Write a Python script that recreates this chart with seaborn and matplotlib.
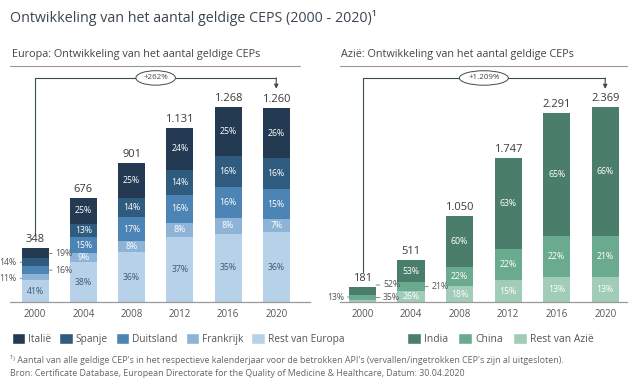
import seaborn as sns
import matplotlib.pyplot as plt
from matplotlib.patches import Patch
import pandas as pd

sns.set_style('white')
plt.rcParams['font.family'] = ['Open Sans', 'DejaVu Sans']

years = ['2000', '2004', '2008', '2012', '2016', '2020']

# Europe: totals and shares (%) per country, bottom -> top
eu_total = [348, 676, 901, 1131, 1268, 1260]
eu_regions = ['Rest van Europa', 'Frankrijk', 'Duitsland', 'Spanje', 'Italië']
eu_rest = [41, 38, 36, 37, 35, 36]
eu_fr = [11, 9, 8, 8, 8, 7]
eu_de = [16, 15, 17, 16, 16, 15]
eu_es = [14, 13, 14, 14, 16, 16]
eu_it = [19, 25, 25, 24, 25, 26]
eu_colors = ['#b7d1e8', '#8db4d6', '#4c84b5', '#2f5b7e', '#243a52']

# Asia
as_total = [181, 511, 1050, 1747, 2291, 2369]
as_regions = ['Rest van Azië', 'China', 'India']
as_rest = [13, 26, 18, 15, 13, 13]
as_cn = [35, 21, 22, 22, 22, 21]
as_in = [52, 53, 60, 63, 65, 66]
as_colors = ['#a1ccb8', '#6aab8f', '#4b7e6a']

W, H = 628, 390
fig = plt.figure(figsize=(W / 100, H / 100), dpi=100)


def stacked(ax, totals, regions, shares, colors, inner_dark, outside, pxu):
    df = pd.DataFrame({'year': years, 'total': totals})
    shares = [list(s) for s in shares]
    sums = [sum(s[i] for s in shares) for i in range(len(years))]
    cums = []
    run = [0] * len(years)
    for s in shares:
        run = [run[i] + s[i] for i in range(len(years))]
        cums.append(list(run))
    # draw from top layer down so lower layers overlap
    for k in range(len(regions) - 1, -1, -1):
        df['cum'] = [totals[i] * cums[k][i] / sums[i] for i in range(len(years))]
        sns.barplot(data=df, x='year', y='cum', color=colors[k], saturation=1,
                    width=0.56, errorbar=None, ax=ax, edgecolor='none')
    for i in range(len(years)):
        lo = 0
        for k, reg in enumerate(regions):
            seg = totals[i] * shares[k][i] / sums[i]
            mid = lo + seg / 2
            lab = f'{shares[k][i]}%'
            if (i, reg) in outside:
                side, dy = outside[(i, reg)]
                sgn = 1 if side == 'r' else -1
                ax.annotate(lab, xy=(i + sgn * 0.28, mid - dy / pxu),
                            xytext=(sgn * (5 if side == 'r' else 3.5), 0),
                            textcoords='offset points',
                            ha='left' if side == 'r' else 'right', va='center',
                            fontsize=6.3, color='#555555',
                            arrowprops=dict(arrowstyle='-', color='#777777', lw=0.6,
                                            shrinkA=0, shrinkB=0))
            else:
                ax.text(i, mid, lab, ha='center', va='center', fontsize=6.3,
                        color='#3d5a75' if (inner_dark and k == 0) else 'white')
            lo += seg
        ax.text(i, totals[i] + 3 / pxu, f'{totals[i]:,}'.replace(',', '.'),
                ha='center', va='bottom', fontsize=8, color='#3a3a3a')
    ax.set_xlabel('')
    ax.set_ylabel('')
    ax.set_yticks([])
    for s in ['top', 'left', 'right']:
        ax.spines[s].set_visible(False)
    ax.spines['bottom'].set_color('#999999')
    ax.spines['bottom'].set_linewidth(0.9)
    ax.tick_params(axis='x', length=0, labelsize=7, labelcolor='#555555', pad=5)


def bracket(ax, y0, ytop, ytip, label):
    ax.plot([0, 0, 5], [y0, ytop, ytop], color='#3a4a55', lw=0.8, clip_on=False)
    ax.annotate('', xy=(5, ytip), xytext=(5, ytop),
                arrowprops=dict(arrowstyle='-|>', color='#3a4a55', lw=0.8,
                                mutation_scale=6, shrinkA=0, shrinkB=0))
    ax.text(2.5, ytop, label, ha='center', va='center', fontsize=5.8, color='#444444',
            bbox=dict(boxstyle='ellipse,pad=0.2', fc='white', ec='#3a4a55', lw=0.7))


# left panel
ax1 = fig.add_axes([10 / W, 88 / H, 300 / W, 232 / H])
pxu1 = 0.154
stacked(ax1, eu_total, eu_regions, [eu_rest, eu_fr, eu_de, eu_es, eu_it], eu_colors, True,
        {(0, 'Italië'): ('r', 0), (0, 'Spanje'): ('l', 0),
         (0, 'Duitsland'): ('r', 0), (0, 'Frankrijk'): ('l', 1)}, pxu1)
ax1.set_xlim(-0.52, 5.7)
ax1.set_ylim(0, 232 / pxu1)
bracket(ax1, 435, 1455, 1385, '+262%')

# right panel
ax2 = fig.add_axes([340 / W, 88 / H, 288 / W, 232 / H])
pxu2 = 0.0823
stacked(ax2, as_total, as_regions, [as_rest, as_cn, as_in], as_colors, False,
        {(0, 'India'): ('r', -6), (0, 'China'): ('r', 0),
         (0, 'Rest van Azië'): ('l', -4), (1, 'China'): ('r', 0)}, pxu2)
ax2.set_xlim(-0.464, 5.47)
ax2.set_ylim(0, 232 / pxu2)
bracket(ax2, 365, 2722, 2590, '+1.209%')

# titles
fig.text(10 / W, 1 - 18 / H, 'Ontwikkeling van het aantal geldige CEPS (2000 - 2020)¹',
         fontsize=10.3, color='#3b4652', va='center')
fig.text(12 / W, 1 - 55 / H, 'Europa: Ontwikkeling van het aantal geldige CEPs',
         fontsize=7.8, color='#444444', va='center')
fig.text(341 / W, 1 - 55 / H, 'Azië: Ontwikkeling van het aantal geldige CEPs',
         fontsize=7.8, color='#444444', va='center')
fig.add_artist(plt.Line2D([10 / W, 300 / W], [1 - 66 / H] * 2, color='#999999', lw=0.8))
fig.add_artist(plt.Line2D([340 / W, 1.0], [1 - 66 / H] * 2, color='#999999', lw=0.8))

# legends
leg_kw = dict(loc='center left', frameon=False, handlelength=1.3,
              handleheight=1.3, handletextpad=0.3,
              borderaxespad=0, borderpad=0, labelcolor='#555555')
eu_order = list(range(len(eu_regions)))[::-1]
fig.legend([Patch(fc=eu_colors[k]) for k in eu_order], [eu_regions[k] for k in eu_order],
           ncol=5, bbox_to_anchor=(12 / W, 1 - 339 / H), fontsize=7.3,
           columnspacing=0.8, **leg_kw)
as_order = list(range(len(as_regions)))[::-1]
fig.legend([Patch(fc=as_colors[k]) for k in as_order], [as_regions[k] for k in as_order],
           ncol=3, bbox_to_anchor=(407 / W, 1 - 339 / H), fontsize=7.5,
           columnspacing=1.0, **leg_kw)

# footnote
fig.text(10 / W, 1 - 360 / H,
         "¹⁾ Aantal van alle geldige CEP's in het respectieve kalenderjaar voor de betrokken "
         "API's (vervallen/ingetrokken CEP's zijn al uitgesloten).",
         fontsize=6.4, color='#666666', va='center')
fig.text(10 / W, 1 - 373 / H,
         'Bron: Certificate Database, European Directorate for the Quality of Medicine & '
         'Healthcare, Datum: 30.04.2020',
         fontsize=6.4, color='#666666', va='center')

plt.savefig('out.png', dpi=100)
